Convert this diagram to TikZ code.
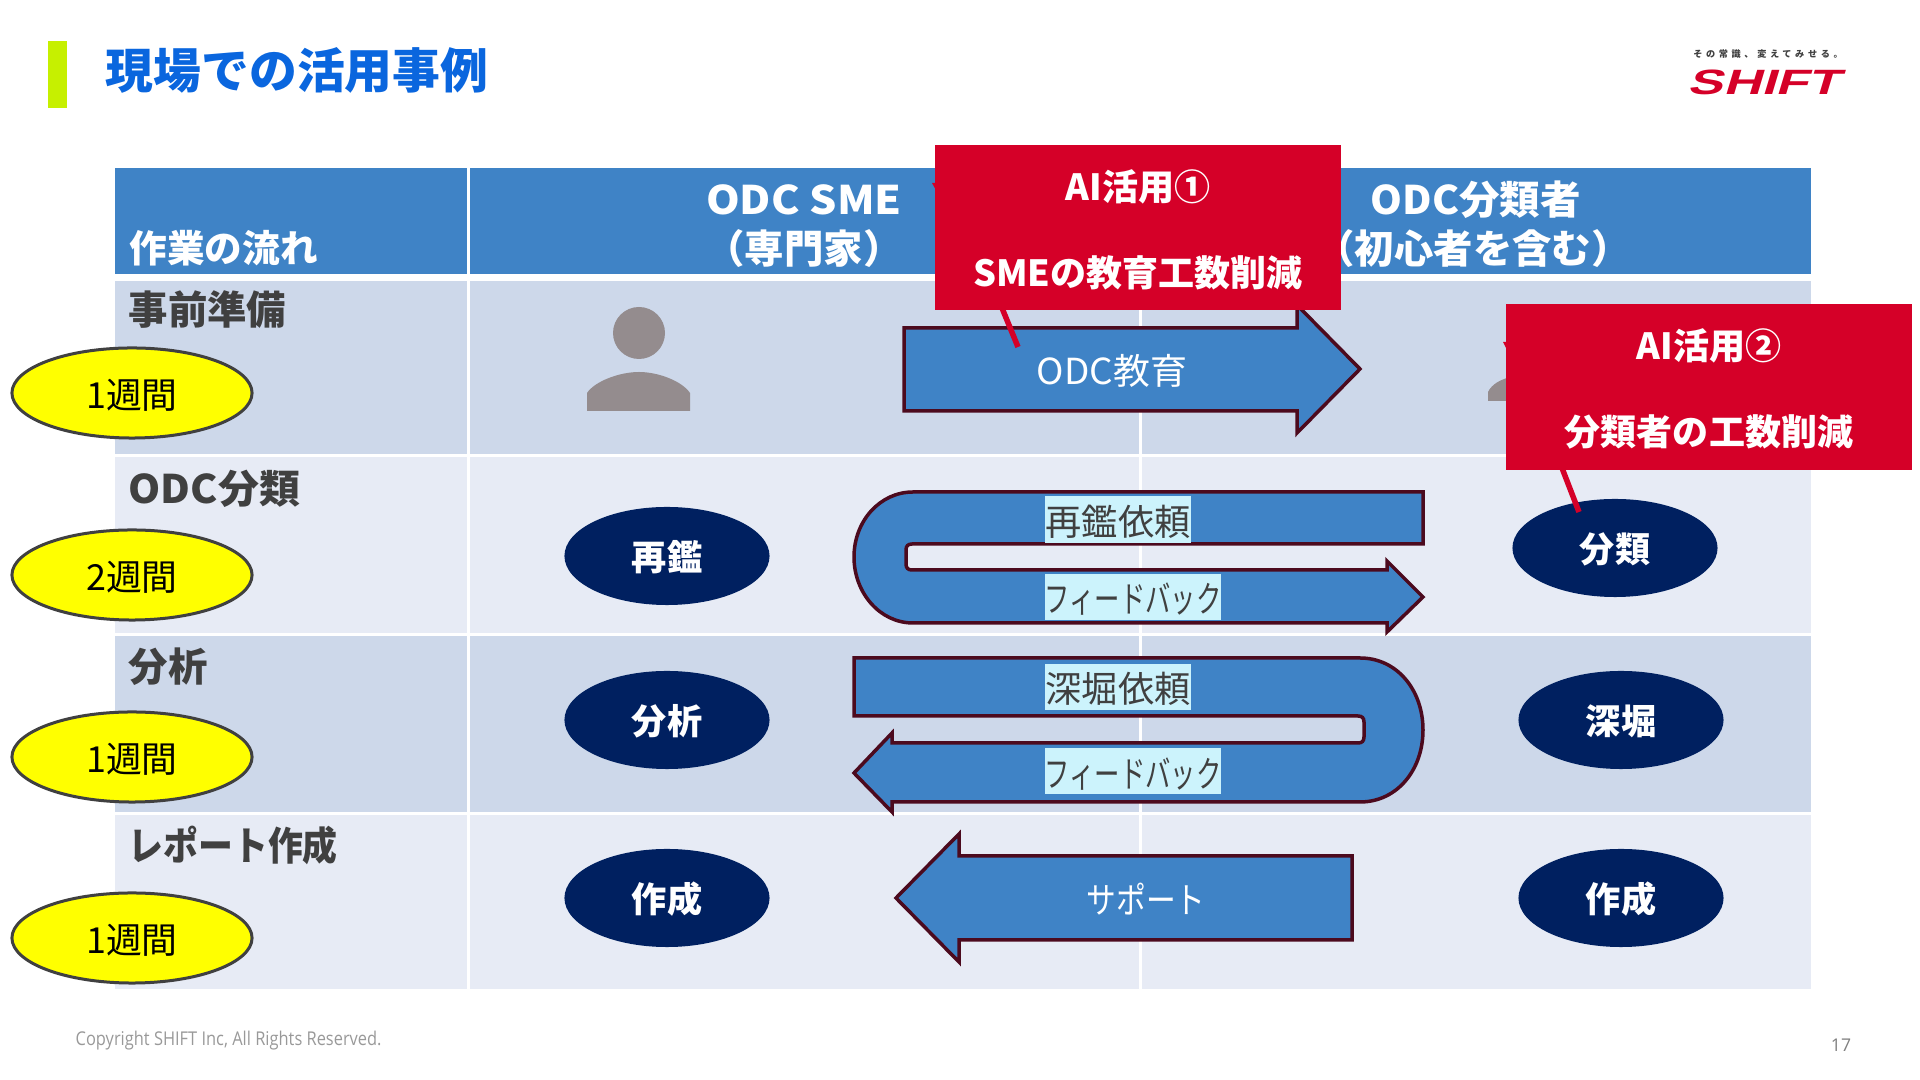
\documentclass[tikz,border=0pt]{standalone}
\usepackage{fontspec,graphicx}
\setmainfont{Noto Sans CJK JP}
\newfontfamily\footfont{Open Sans}
\newfontfamily\logofont[FakeSlant=0.3,FakeStretch=1.5]{Liberation Sans}
\usetikzlibrary{shapes.geometric}
\definecolor{barblue}{HTML}{3F83C6}
\definecolor{bandA}{HTML}{CDD8EA}
\definecolor{bandB}{HTML}{E7EBF5}
\definecolor{navy}{HTML}{002060}
\definecolor{callred}{HTML}{D50028}
\definecolor{maroon}{HTML}{4C0A1E}
\definecolor{titleblue}{HTML}{0A66DE}
\definecolor{lime}{HTML}{C6F000}
\definecolor{cyanlbl}{HTML}{CCF3FC}
\definecolor{inkgrey}{HTML}{404040}
\definecolor{persongrey}{HTML}{948C8E}
\definecolor{weekyellow}{HTML}{FFFF00}
\newcommand{\fs}[1]{\fontsize{#1}{1.2\dimexpr#1pt\relax}\selectfont}
\tikzset{
  headtxt/.style={inner sep=0pt, text=white, font=\fs{11.2}\bfseries},
  rowtxt/.style={inner sep=0pt, anchor=west, text=inkgrey, font=\fs{11.2}\bfseries},
  weekoval/.style={ellipse, draw=inkgrey, fill=weekyellow, line width=0.03cm, minimum width=2.4cm, minimum height=0.9cm, inner sep=0pt, text height=0.314cm, text depth=0pt, font=\fs{10.2}},
  taskoval/.style={ellipse, fill=navy, minimum width=2.05cm, minimum height=0.98cm, inner sep=0pt, text=white, text height=0.29cm, text depth=0pt, font=\fs{10}\bfseries},
  callbox/.style={rectangle, fill=callred, minimum width=4.06cm, minimum height=1.65cm, inner sep=0pt, text=white, align=center, font=\fontsize{10.25}{12.2}\selectfont\bfseries},
  calltail/.style={draw=callred, line width=0.055cm},
  flowarrow/.style={draw=maroon, fill=barblue, line width=0.035cm, line join=miter},
  flowtxt/.style={inner sep=0pt, text=white, font=\fs{10.2}},
  backlbl/.style={fill=cyanlbl, inner sep=0pt, minimum height=0.465cm, text=inkgrey, text height=0.32cm, text depth=0pt, font=\fs{10.3}},
}
\begin{document}
\begin{tikzpicture}[x=0.01cm,y=-0.01cm]
\useasboundingbox (0,0) rectangle (1920,1080);

% title
\fill[lime] (48,41) rectangle (67,108);
\node[inner sep=0pt, anchor=west, text=titleblue, font=\fs{13.6}\bfseries] (title) at (105,70) {現場での活用事例};

% logo
\node[inner sep=0pt, text=inkgrey, font=\fs{2.6}\bfseries\addfontfeature{LetterSpace=40}] (tagline) at (1768,54) {その常識、変えてみせる。};
\node[inner sep=0pt, text=callred, font=\logofont\fs{10}\bfseries] (logo) at (1764,82) {SHIFT};

% table bands
\fill[barblue] (115,168) rectangle (467,274);
\fill[barblue] (470,168) rectangle (1811,274);
\fill[bandA] (115,281) rectangle (467,454);
\fill[bandA] (470,281) rectangle (1811,454);
\fill[bandB] (115,457) rectangle (467,633);
\fill[bandB] (470,457) rectangle (1811,633);
\fill[bandA] (115,636) rectangle (467,812);
\fill[bandA] (470,636) rectangle (1811,812);
\fill[bandB] (115,815) rectangle (467,989);
\fill[bandB] (470,815) rectangle (1811,989);
\draw[white, line width=0.03cm] (1140,281) -- (1140,989);

% header row
\node[headtxt, anchor=west, font=\fs{10.7}\bfseries] (flow) at (129,248) {作業の流れ};
\node[headtxt] (sme) at (804,200) {\scalebox{1.09}[1]{ODC SME}};
\node[headtxt] (smesub) at (804,249) {（専門家）};
\node[headtxt] (cls) at (1476,200) {\scalebox{1.03}[1]{ODC分類者}};
\node[headtxt] (clssub) at (1473,249) {（初心者を含む）};

% row names
\node[rowtxt] (prep) at (128,310) {事前準備};
\node[rowtxt] (odc) at (128,488.5) {\scalebox{1.04}[1]{ODC分類}};
\node[rowtxt] (ana) at (128,667) {分析};
\node[rowtxt] (rep) at (128,845.5) {\scalebox{0.885}[1]{レポート作成}};

\node[weekoval] (W1) at (132,393) {1週間};
\node[weekoval] (W2) at (132,575) {2週間};
\node[weekoval] (W3) at (132,757) {1週間};
\node[weekoval] (W4) at (132,938) {1週間};

% persons
\fill[persongrey] (639,333) circle [radius=26];
\fill[persongrey] (587,411) -- (587,393) .. controls (595,381) and (620,372) .. (639,372) .. controls (658,372) and (682,381) .. (690,393) -- (690,411) -- cycle;
\fill[persongrey] (1488,401) -- (1488,392) .. controls (1492,384) and (1500,380) .. (1510,377) -- (1510,401) -- cycle;

% arrows
\path[flowarrow] (904,328) -- (1297,328) -- (1297,305) -- (1360,369) -- (1297,433) -- (1297,411) -- (904,411) -- cycle;
\path[flowarrow] (1352,856) -- (959,856) -- (959,834) -- (896,898) -- (959,962) -- (959,940) -- (1352,940) -- cycle;
\path[flowarrow] (1423,492) -- (913,492) .. controls (880,492) and (854,521) .. (854,557) .. controls (854,593) and (880,623) .. (913,623) -- (1387,623) -- (1387,632) -- (1423,597) -- (1387,561) -- (1387,570) -- (912,570) .. controls (908,570) and (906,568) .. (906,564) -- (906,550) .. controls (906,546) and (908,544) .. (912,544) -- (1423,544) -- cycle;
\path[flowarrow] (854,658) -- (1360,658) .. controls (1397,658) and (1423,690) .. (1423,730) .. controls (1423,770) and (1397,802) .. (1360,802) -- (892,802) -- (892,812) -- (854,773) -- (892,733) -- (892,743) -- (1358,743) .. controls (1362,743) and (1364,741) .. (1364,737) -- (1364,722) .. controls (1364,718) and (1362,716) .. (1358,716) -- (854,716) -- cycle;

\node[flowtxt] (edu) at (1112,370.5) {\scalebox{1.03}[1]{ODC教育}};
\node[flowtxt] (sup) at (1146,899.5) {\scalebox{0.83}[1]{サポート}};

\node[backlbl, minimum width=1.45cm] (ask1) at (1118,519.5) {再鑑依頼};
\node[backlbl, minimum width=1.76cm] (fb1) at (1133,597) {\scalebox{0.7}[1]{フィードバック}};
\node[backlbl, minimum width=1.45cm] (ask2) at (1118,687) {深堀依頼};
\node[backlbl, minimum width=1.76cm] (fb2) at (1133,771) {\scalebox{0.7}[1]{フィードバック}};

% task ovals
\node[taskoval] (redo) at (667,556) {再鑑};
\node[taskoval] (anaL) at (667,720) {分析};
\node[taskoval] (makeL) at (667,898) {作成};
\node[taskoval] (sort) at (1615,548) {分類};
\node[taskoval] (dig) at (1621,720) {深堀};
\node[taskoval] (makeR) at (1621,898) {作成};

% callouts
\coordinate (tailA) at (1002,308);
\coordinate (tipA) at (1018,347);
\coordinate (tailB) at (1562,468);
\coordinate (tipB) at (1579,512);
\path[calltail] (tailA) edge (tipA);
\path[calltail] (tailB) edge (tipB);
\fill[callred] (932,183) -- (937,183) -- (937,192) -- cycle;
\fill[callred] (1503,342) -- (1508,342) -- (1508,352) -- cycle;
\node[callbox] (callA) at (1138,227.5) {\rule{0pt}{10pt}AI活用①\\[12.2pt]SMEの教育工数削減};
\node[callbox] (callB) at (1709,387) {\rule{0pt}{10pt}AI活用②\\[12.2pt]分類者の工数削減};

% footer
\node[inner sep=0pt, anchor=west, text=gray!80, font=\footfont\fs{5.4}] (copy) at (75,1041) {\scalebox{0.865}[1]{Copyright SHIFT Inc, All Rights Reserved.}};
\node[inner sep=0pt, text=gray, font=\footfont\fs{5}] (page) at (1841,1045) {17};
\end{tikzpicture}
\end{document}
